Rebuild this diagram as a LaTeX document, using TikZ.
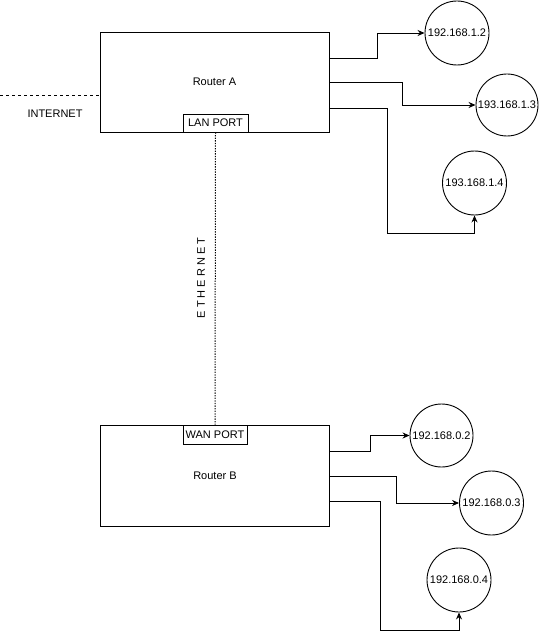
\documentclass[tikz,border=0pt]{standalone}
\usepackage{fontspec}
\setmainfont{Liberation Sans}
\usetikzlibrary{arrows.meta}
\begin{document}
\begin{tikzpicture}[x=1pt,y=-1pt,
  every node/.style={font=\fontsize{11}{13}\selectfont, text=black},
  router/.style={draw, line width=0.9pt, minimum width=229pt, minimum height=100pt, inner sep=0pt},
  port/.style={draw, line width=0.9pt, inner sep=0pt, minimum height=18pt},
  host/.style={draw, circle, line width=0.9pt, minimum size=64pt, inner sep=0pt},
  link/.style={draw, line width=0.9pt, -{Stealth[length=7pt,width=6pt]}},
]
\useasboundingbox (0,0) rectangle (540,639);
% Router A
\node[router] (ra) at (214.5,82) {Router A};
\node[port, minimum width=65pt] (lan) at (215.5,123) {LAN PORT};
% Router B
\node[router, minimum height=101pt] (rb) at (215,475.5) {Router B};
\node[port, minimum width=64pt, minimum height=19pt] (wan) at (215,434.5) {WAN PORT};
% Internet
\coordinate (inet) at (0,95);
\draw[dashed, line width=0.8pt] (inet) -- (ra.west |- inet);
\node (inettext) at (55,114) {INTERNET};
% Ethernet
\draw[line width=1pt, dash pattern=on 1.3pt off 1.3pt] (lan.south) -- (wan.north);
\node[rotate=90] (eth) at (201,278) {E T H E R N E T};
% hosts A
\node[host] (c1) at (457,33) {192.168.1.2};
\node[host, minimum size=62pt] (c2) at (507,105) {193.168.1.3};
\node[host] (c3) at (474.5,183) {193.168.1.4};
\draw[link] ([yshift=24pt]ra.east) -- ++(48,0) |- (c1.west);
\draw[link] (ra.east) -- ++(73,0) |- (c2.west);
\draw[link] ([yshift=-26pt]ra.east) -- ++(58,0) -- ++(0,125) -| (c3.south);
% hosts B
\node[host, minimum size=63pt] (d1) at (441.5,435.5) {192.168.0.2};
\node[host] (d2) at (491.5,503) {192.168.0.3};
\node[host] (d3) at (459,580) {192.168.0.4};
\draw[link] ([yshift=24.5pt]rb.east) -- ++(40,0) |- (d1.west);
\draw[link] ([yshift=-0.5pt]rb.east) -- ++(66,0) |- (d2.west);
\draw[link] ([yshift=-25.5pt]rb.east) -- ++(50,0) -- ++(0,129) -| (d3.south);
\end{tikzpicture}
\end{document}
